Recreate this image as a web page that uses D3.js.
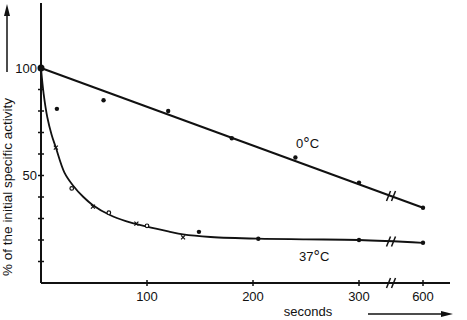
<!DOCTYPE html>
<html>
<head>
<meta charset="utf-8">
<script src="https://cdn.jsdelivr.net/npm/d3@7"></script>
<style>
	body { margin: 0; background: #fff; }
	text { font-family: "Liberation Sans", Arial, sans-serif; fill: #111; }
</style>
</head>
<body>
<svg id="chart"></svg>
<script>
// Y axis: minor ticks every 10, labels at 50 and 100
const yTicks = [10, 20, 30, 40, 50, 60, 70, 80, 90, 100];
const yLabels = [50, 100];
// X axis (seconds), broken between 300 and 600
const xTicks = [100, 200, 300, 600];
const xBreak = 450;

// 0 °C: measured points and fitted straight line
const coldT = [0, 59, 120, 180, 240, 300, 600];
const coldV = [100, 85, 80, 67.3, 58.4, 46.7, 35];
const coldFitT = [0, 600];
const coldFitV = [100, 35];

// 37 °C: measured points (dot / circle / cross) and fitted curve
const warmT = [0, 15, 14, 29, 49, 64, 90, 100, 134, 149, 205, 300, 600];
const warmV = [100, 81, 63, 44, 35.5, 32.7, 27.6, 26.6, 21.2, 23.8, 20.6, 20, 18.7];
const warmMark = ["dot", "dot", "x", "o", "x", "o", "x", "o", "x", "dot", "dot", "dot", "dot"];
const warmFitT = [0, 2.5, 6, 10, 14, 22, 30, 40, 49, 65, 80, 100, 120, 134, 160, 205, 250, 300, 600];
const warmFitV = [100, 88, 77, 69, 63, 51.5, 45.5, 40, 36.2, 31.6, 28.8, 26.2, 24, 22.6, 21.4, 20.6, 20.3, 20, 18.7];

const width = 467, height = 320;
const svg = d3.select("#chart").attr("width", width).attr("height", height);

const x = d3.scaleLinear().domain([0, 300, 600]).range([41, 359, 423]);
const y = d3.scaleLinear().domain([0, 100]).range([283, 68]);

// axes lines
svg.append("line").attr("x1", x(0)).attr("x2", x(0)).attr("y1", 3).attr("y2", y(0))
	.attr("stroke", "#111").attr("stroke-width", 2);
svg.append("line").attr("x1", x(0)).attr("x2", 450).attr("y1", y(0)).attr("y2", y(0))
	.attr("stroke", "#111").attr("stroke-width", 2);

// y ticks (crossing the axis)
svg.selectAll(".ytick").data(yTicks).enter().append("line")
	.attr("x1", x(0) - 3).attr("x2", x(0) + 3)
	.attr("y1", d => y(d)).attr("y2", d => y(d))
	.attr("stroke", "#111").attr("stroke-width", 1.5);
svg.selectAll(".ylab").data(yLabels).enter().append("text")
	.attr("x", x(0) - 4).attr("y", d => y(d))
	.attr("dy", "0.35em").attr("text-anchor", "end")
	.style("font-size", "13px").text(d => d);

// x ticks
svg.selectAll(".xtick").data(xTicks).enter().append("line")
	.attr("x1", d => x(d)).attr("x2", d => x(d))
	.attr("y1", y(0) - 3).attr("y2", y(0) + 3)
	.attr("stroke", "#111").attr("stroke-width", 1.5);
svg.selectAll(".xlab").data(xTicks).enter().append("text")
	.attr("x", d => x(d)).attr("y", y(0) + 18)
	.attr("text-anchor", "middle")
	.style("font-size", "13px").text(d => d);

// break marks
function breakMark(cx, cy) {
	[-2.5, 2.5].forEach(off => {
		svg.append("line")
			.attr("x1", cx + off - 2).attr("x2", cx + off + 2)
			.attr("y1", cy + 5).attr("y2", cy - 5)
			.attr("stroke", "#111").attr("stroke-width", 1.5);
	});
}
breakMark(x(xBreak), y(0));

// 0 °C fitted line
const coldFit = coldFitT.map((t, i) => [t, coldFitV[i]]);
svg.append("path").datum(coldFit)
	.attr("d", d3.line().x(d => x(d[0])).y(d => y(d[1])))
	.attr("fill", "none").attr("stroke", "#111").attr("stroke-width", 2);
breakMark(x(xBreak), y(coldFitV[0] + (coldFitV[1] - coldFitV[0]) * (x(xBreak) - x(0)) / (x(600) - x(0))));

// 37 °C fitted curve
const warmFit = warmFitT.map((t, i) => [t, warmFitV[i]]);
svg.append("path").datum(warmFit)
	.attr("d", d3.line().x(d => x(d[0])).y(d => y(d[1])).curve(d3.curveCatmullRom.alpha(0.5)))
	.attr("fill", "none").attr("stroke", "#111").attr("stroke-width", 1.8);
breakMark(x(xBreak), y(19.3));

// points
svg.selectAll(".cold").data(coldT.map((t, i) => [t, coldV[i]])).enter().append("circle")
	.attr("cx", d => x(d[0])).attr("cy", d => y(d[1]))
	.attr("r", (d, i) => i === 0 ? 3.5 : 2.2).attr("fill", "#111");

const warm = warmT.map((t, i) => ({ t, v: warmV[i], m: warmMark[i] }));
svg.selectAll(".wdot").data(warm.filter(d => d.m === "dot")).enter().append("circle")
	.attr("cx", d => x(d.t)).attr("cy", d => y(d.v)).attr("r", 2.2).attr("fill", "#111");
svg.selectAll(".wo").data(warm.filter(d => d.m === "o")).enter().append("circle")
	.attr("cx", d => x(d.t)).attr("cy", d => y(d.v)).attr("r", 1.8)
	.attr("fill", "#fff").attr("stroke", "#111").attr("stroke-width", 1.2);
const cross = svg.selectAll(".wx").data(warm.filter(d => d.m === "x")).enter().append("g")
	.attr("transform", d => `translate(${x(d.t)},${y(d.v)})`);
cross.append("path").attr("d", "M-2,-2L2,2M-2,2L2,-2")
	.attr("stroke", "#111").attr("stroke-width", 1.2);

// curve labels
function tempLabel(tx, ty, num) {
	const t = svg.append("text").attr("x", tx).attr("y", ty).style("font-size", "13px");
	t.append("tspan").text(num);
	t.append("tspan").style("font-size", "16px").attr("dy", "1").text("°");
	t.append("tspan").attr("dy", "-1").text("C");
}
tempLabel(296, 148, "0");
tempLabel(299, 261, "37");

// axis titles with arrows
svg.append("text").attr("x", 308).attr("y", 316).attr("text-anchor", "middle")
	.style("font-size", "13px").text("seconds");
svg.append("line").attr("x1", 368).attr("x2", 446).attr("y1", 314).attr("y2", 314)
	.attr("stroke", "#111").attr("stroke-width", 1.5);
svg.append("path").attr("d", "M453,314L441,311L441,317Z").attr("fill", "#111");

svg.append("text").attr("transform", "translate(12,187) rotate(-90)")
	.attr("text-anchor", "middle").style("font-size", "13.5px")
	.text("% of the initial specific activity");
svg.append("line").attr("x1", 7).attr("x2", 7).attr("y1", 14).attr("y2", 72)
	.attr("stroke", "#111").attr("stroke-width", 1.5);
svg.append("path").attr("d", "M7,4L4,16L10,16Z").attr("fill", "#111");
</script>
</body>
</html>
